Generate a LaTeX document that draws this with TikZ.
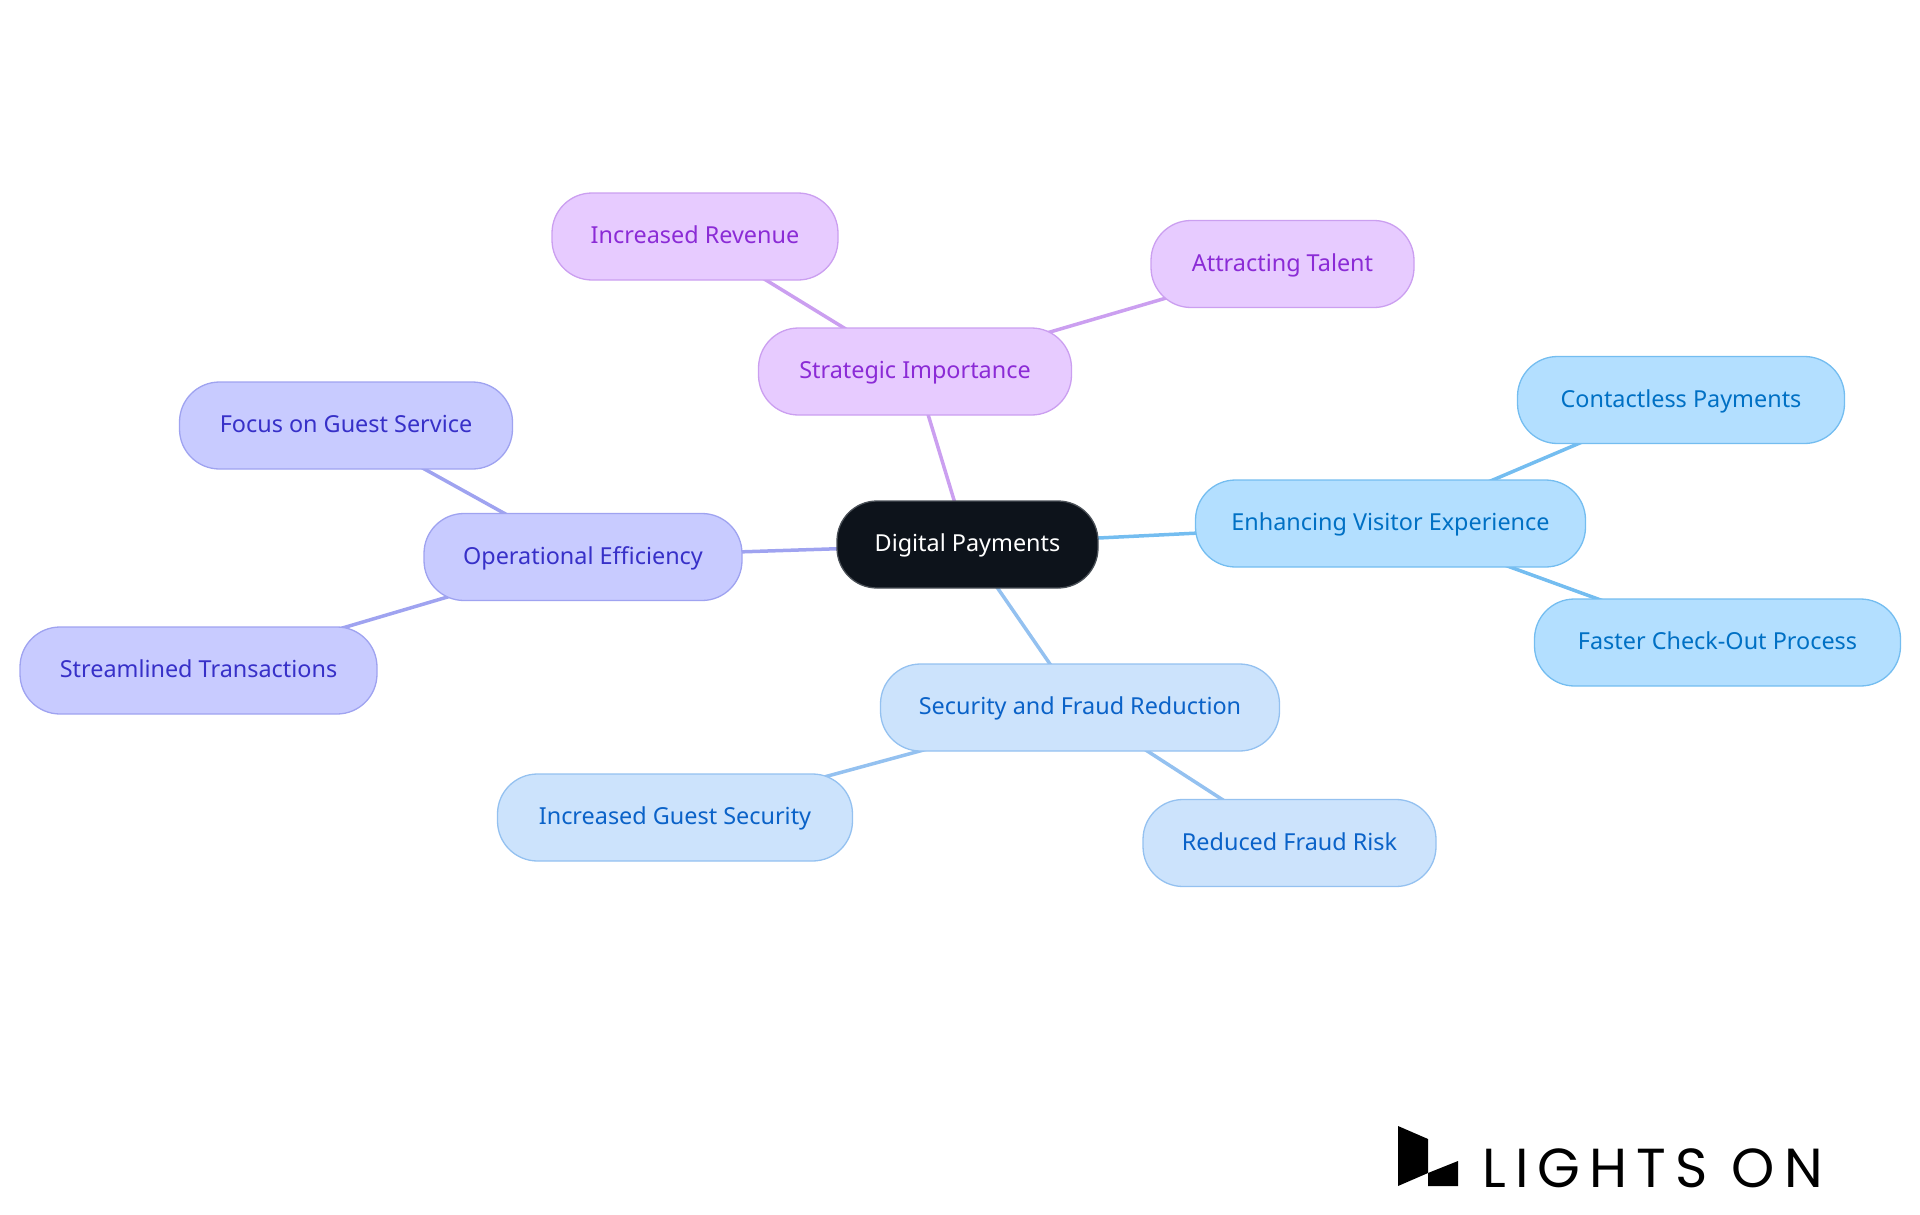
\documentclass[tikz,border=0pt]{standalone}
\usepackage{fontspec}
\usetikzlibrary{backgrounds}
\setmainfont{Noto Sans}
\newfontfamily\logofont[LetterSpace=16.6]{Poppins}
\definecolor{rootfill}{HTML}{0D131B}
\definecolor{rootline}{HTML}{4A5057}
\definecolor{stratfill}{HTML}{E7CBFF}
\definecolor{stratline}{HTML}{CB9FF0}
\definecolor{strattext}{HTML}{8B2BD6}
\definecolor{operfill}{HTML}{C8CBFF}
\definecolor{operline}{HTML}{9FA3F0}
\definecolor{opertext}{HTML}{3730C8}
\definecolor{visitfill}{HTML}{B3DFFF}
\definecolor{visitline}{HTML}{74BDF0}
\definecolor{visittext}{HTML}{0070C4}
\definecolor{secfill}{HTML}{CCE3FC}
\definecolor{secline}{HTML}{94C1F0}
\definecolor{sectext}{HTML}{0A62C8}
\tikzset{
  pill/.style={rectangle,rounded corners=40pt,draw,line width=1.3pt,minimum height=87pt,
    inner sep=0pt,text height=17pt,text depth=2.5pt,font=\fontsize{23.4}{27}\selectfont},
  rootpill/.style={pill,fill=rootfill,draw=rootline,text=white},
  stratpill/.style={pill,fill=stratfill,draw=stratline,text=strattext},
  operpill/.style={pill,fill=operfill,draw=operline,text=opertext},
  visitpill/.style={pill,fill=visitfill,draw=visitline,text=visittext},
  secpill/.style={pill,fill=secfill,draw=secline,text=sectext},
  link/.style={line width=3.5pt}
}
\begin{document}
\begin{tikzpicture}[x=1pt,y=-1pt]
      \useasboundingbox (0,0) rectangle (1920,1215);

      \node [rootpill,minimum width=261pt] (root) at (967.5,544.5) {Digital Payments};

      \node [stratpill,minimum width=313pt] (strat) at (915,371.5) {Strategic Importance};
      \node [stratpill,minimum width=286pt] (revenue) at (695,236.5) {Increased Revenue};
      \node [stratpill,minimum width=263pt] (talent) at (1282.5,264) {Attracting Talent};

      \node [operpill,minimum width=318pt] (oper) at (583,557) {Operational Efficiency};
      \node [operpill,minimum width=333pt] (guest) at (346,425.5) {Focus on Guest Service};
      \node [operpill,minimum width=357pt] (stream) at (198.5,670.5) {Streamlined Transactions};

      \node [visitpill,minimum width=390pt] (visit) at (1390.5,523.5) {Enhancing Visitor Experience};
      \node [visitpill,minimum width=327pt] (contact) at (1681,400) {Contactless Payments};
      \node [visitpill,minimum width=366pt] (faster) at (1717.5,642.5) {Faster Check-Out Process};

      \node [secpill,minimum width=399pt] (sec) at (1080,707.5) {Security and Fraud Reduction};
      \node [secpill,minimum width=355pt] (safety) at (675,817.5) {Increased Guest Security};
      \node [secpill,minimum width=293pt] (fraud) at (1289.5,843) {Reduced Fraud Risk};

      \begin{scope}[on background layer]
        \draw[link,stratline] (root.center) -- (strat.center);
        \draw[link,stratline] (strat.center) -- (revenue.center);
        \draw[link,stratline] (strat.center) -- (talent.center);
        \draw[link,operline] (root.center) -- (oper.center);
        \draw[link,operline] (oper.center) -- (guest.center);
        \draw[link,operline] (oper.center) -- (stream.center);
        \draw[link,visitline] (root.center) -- (visit.center);
        \draw[link,visitline] (visit.center) -- (contact.center);
        \draw[link,visitline] (visit.center) -- (faster.center);
        \draw[link,secline] (root.center) -- (sec.center);
        \draw[link,secline] (sec.center) -- (safety.center);
        \draw[link,secline] (sec.center) -- (fraud.center);
      \end{scope}

      % logo
      \fill[black] (1398,1126) -- (1428,1139) -- (1428,1173) -- (1398,1186) -- cycle;
      \fill[black] (1428,1173) -- (1458,1161) -- (1458,1186) -- (1428,1186) -- cycle;
      \node [anchor=base west,inner sep=0pt,font=\logofont\fontsize{55}{60}\selectfont] (brand) at (1482,1187) {LIGHTS ON};
\end{tikzpicture}
\end{document}
